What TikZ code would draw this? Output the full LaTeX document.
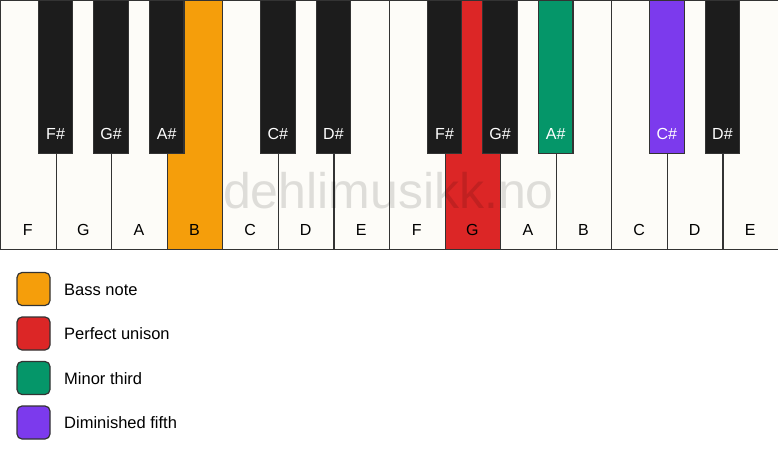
\documentclass[tikz,border=0pt]{standalone}
\usepackage{fontspec}
\setmainfont{Liberation Sans}
\usepackage{tikz}
\usetikzlibrary{positioning}
\definecolor{keywhite}{HTML}{FDFCF8}
\definecolor{keyblack}{HTML}{1C1C1C}
\definecolor{keyline}{HTML}{333333}
\definecolor{bassnote}{HTML}{F59E0B}
\definecolor{unison}{HTML}{DC2626}
\definecolor{minorthird}{HTML}{059669}
\definecolor{dimfifth}{HTML}{7C3AED}
\tikzset{
    whitekey/.style={draw=keyline, line width=1.2pt, minimum width=55.57pt, minimum height=249pt, anchor=north west, inner sep=0pt},
    blackkey/.style={draw=keyline, line width=1.2pt, minimum width=34.5pt, minimum height=153pt, anchor=north, inner sep=0pt},
    keytext/.style={font=\fontsize{16}{19}\selectfont, anchor=base, inner sep=0pt},
    legendbox/.style={draw=keyline, line width=1.2pt, rounded corners=5pt, minimum size=33pt, inner sep=0pt},
    legendtext/.style={font=\fontsize{16.5}{20}\selectfont, anchor=base west, inner sep=0pt}
}
\begin{document}
\begin{tikzpicture}[x=1pt, y=-1pt]
    \useasboundingbox (0, 0) rectangle (778, 461);
    \fill[white] (0, 0) rectangle (778, 461);
% white keys
\foreach \name/\col [count=\i from 0] in {F/keywhite, G/keywhite, A/keywhite, B/bassnote, C/keywhite, D/keywhite, E/keywhite, F/keywhite, G/unison, A/keywhite, B/keywhite, C/keywhite, D/keywhite, E/keywhite} {
    \node[whitekey, fill=\col] (w\i) at (\i*55.571, 0) {};
    \node[keytext] at (\i*55.571+27.79, 235.5) {\name};
}
% black keys
\foreach \name/\pos/\col in {F\#/1/keyblack, G\#/2/keyblack, A\#/3/keyblack, C\#/5/keyblack, D\#/6/keyblack, F\#/8/keyblack, G\#/9/keyblack, A\#/10/minorthird, C\#/12/dimfifth, D\#/13/keyblack} {
    \node[blackkey, fill=\col] (b\pos) at (\pos*55.571, 0) {};
    \node[keytext, text=white] at (\pos*55.571, 139) {\name};
}
    \node[font=\fontsize{50}{60}\selectfont, text=black, text opacity=0.12, anchor=base] (mark) at (388.5, 208) {dehlimusikk.no};
% legend
\foreach \txt/\col [count=\j from 0] in {Bass note/bassnote, Perfect unison/unison, Minor third/minorthird, Diminished fifth/dimfifth} {
    \node[legendbox, fill=\col] (leg\j) at (33.5, 289+\j*44.5) {};
    \node[legendtext] at (64, 295.3+\j*44.5) {\txt};
}
    \end{tikzpicture}
\end{document}
